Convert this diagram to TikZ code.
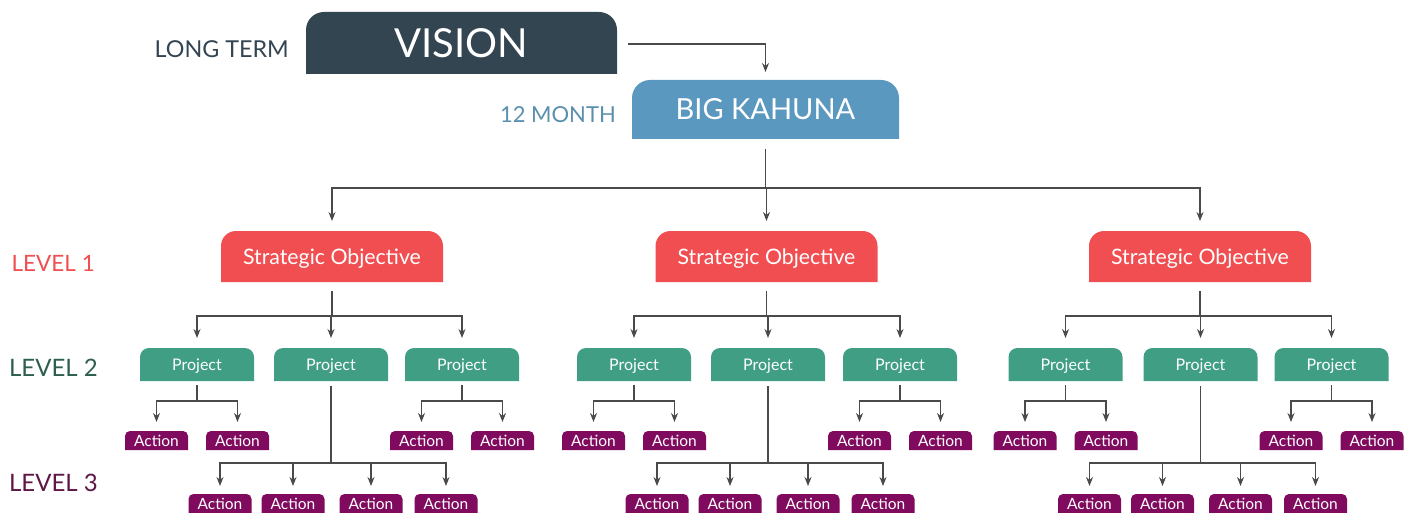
\documentclass[tikz,border=0pt]{standalone}
\usepackage{fontspec}
\setmainfont{Lato}
\usetikzlibrary{arrows.meta,backgrounds}

\definecolor{cVision}{HTML}{344552}
\definecolor{cKahuna}{HTML}{5A98BF}
\definecolor{cObjective}{HTML}{F04E51}
\definecolor{cProject}{HTML}{409E85}
\definecolor{cAction}{HTML}{800B5E}
\definecolor{cMonth}{HTML}{5A8FAE}
\definecolor{cLevelTwo}{HTML}{2E5E4D}
\definecolor{cLevelThree}{HTML}{5F1747}
\definecolor{cLine}{HTML}{4A4A4A}

% tab-shaped fill behind a node: rounded top corners, square bottom corners
\newcommand\tabfill[3]{%
  \begin{scope}[on background layer]
    \fill[#2, rounded corners=#3] (#1.south west) -- (#1.north west)
      -- (#1.north east) -- (#1.south east);
  \end{scope}}

\begin{document}
\begin{tikzpicture}[x=1pt,y=-1pt,
  tab/.style={inner sep=0pt, outer sep=0pt, text=white, text depth=0pt},
  visionbox/.style={tab, text height=28.7pt,
    minimum width=311pt, minimum height=62pt, font=\fontsize{40}{40}\selectfont},
  kahunabox/.style={tab, text height=20.8pt,
    minimum width=267pt, minimum height=59pt, font=\fontsize{29}{29}\selectfont},
  objbox/.style={tab, text height=15.3pt,
    minimum width=222pt, minimum height=51pt, font=\fontsize{21.3}{22}\selectfont},
  projbox/.style={tab, text height=11.5pt,
    minimum width=114pt, minimum height=33pt, font=\fontsize{16}{16}\selectfont},
  actbox/.style={tab, text height=11.1pt,
    minimum width=63pt, minimum height=19pt, font=\fontsize{15.5}{15.5}\selectfont},
  label/.style={inner sep=0pt, anchor=base east},
  link/.style={draw=cLine, line width=1.1pt, -{Stealth[length=9pt,width=7pt]}}
]
\useasboundingbox (0,0) rectangle (1415,513);

% top of the hierarchy
\node[visionbox] (vision) at (461.5,43) {VISION};
\tabfill{vision}{cVision}{18pt}
\node[kahunabox] (kahuna) at (765.5,109.5) {BIG KAHUNA};
\tabfill{kahuna}{cKahuna}{18pt}

\node[label, text=cVision, font=\fontsize{23.3}{24}\selectfont] (longterm) at (289,57.5) {LONG TERM};
\node[label, text=cMonth, font=\fontsize{22}{22}\selectfont] (month) at (616,123) {12 MONTH};
\node[label, text=cObjective, font=\fontsize{22.5}{22}\selectfont] (lvlone) at (95,271.5) {LEVEL 1};
\node[label, text=cLevelTwo, font=\fontsize{24}{24}\selectfont] (lvltwo) at (98,376.5) {LEVEL 2};
\node[label, text=cLevelThree, font=\fontsize{24}{24}\selectfont] (lvlthree) at (98,491.5) {LEVEL 3};

\draw[link] ([xshift=11pt,yshift=-1pt]vision.east) -| ([yshift=8pt]kahuna.north);

% three branches: objective, projects, actions
\foreach \g/\sx/\pa/\pb/\pc in {1/332/197/331/462, 2/766.5/634/768/900, 3/1200/1065.5/1200.5/1331.5}{
  \node[objbox] (obj\g) at (\sx,256.5) {Strategic Objective};
  \tabfill{obj\g}{cObjective}{15pt}
  \draw[link] ([yshift=-10pt]kahuna.south) -- ++(0,39) -| ([yshift=10pt]obj\g.north);

  \foreach \p/\px in {a/\pa, b/\pb, c/\pc}{
    \node[projbox] (prj\g\p) at (\px,364.5) {Project};
    \tabfill{prj\g\p}{cProject}{9pt}
    \draw[link] ([yshift=-9pt]obj\g.south) -- ++(0,25) -| ([yshift=10pt]prj\g\p.north);
  }

  % side projects: two actions each
  \foreach \p/\px in {a/\pa, c/\pc}{
    \foreach \k/\dx in {1/-40.5, 2/40.5}{
      \node[actbox] (act\g\p\k) at (\px+\dx,440.5) {Action};
      \tabfill{act\g\p\k}{cAction}{5pt}
      \draw[link] ([yshift=-4pt]prj\g\p.south) -- ++(0,16) -| ([yshift=9pt]act\g\p\k.north);
    }
  }
  % middle project: four actions
  \foreach \k/\dx in {1/-111, 2/-38, 3/40, 4/115}{
    \node[actbox] (act\g b\k) at (\pb+\dx,503.5) {Action};
    \tabfill{act\g b\k}{cAction}{5pt}
    \draw[link] ([yshift=-5pt]prj\g b.south) -- ++(0,77) -| ([yshift=8pt]act\g b\k.north);
  }
}
\end{tikzpicture}
\end{document}
